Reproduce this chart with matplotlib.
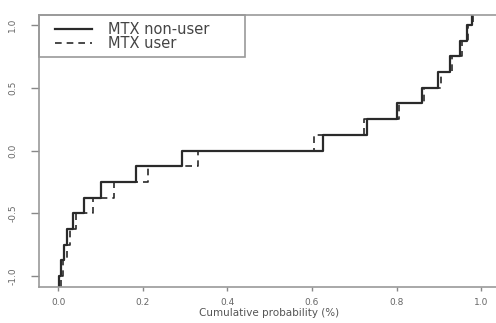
import numpy as np
import matplotlib
matplotlib.use('Agg')
import matplotlib.pyplot as plt
from matplotlib.patches import Rectangle

# step levels (value axis) and the cumulative probability where each level starts
levels = [-1.25, -1.0, -0.875, -0.75, -0.625, -0.5, -0.375, -0.25, -0.125, 0.0,
          0.125, 0.25, 0.375, 0.5, 0.625, 0.75, 0.875, 1.0, 1.25]
nonuser_x = [0.0, 0.003, 0.006, 0.014, 0.021, 0.036, 0.061, 0.102, 0.184, 0.293,
             0.627, 0.731, 0.800, 0.861, 0.898, 0.927, 0.950, 0.967, 0.978]
user_x = [0.0, 0.006, 0.012, 0.020, 0.028, 0.043, 0.082, 0.131, 0.213, 0.331,
          0.605, 0.723, 0.805, 0.866, 0.904, 0.932, 0.955, 0.970, 0.981]
series_names = ['MTX non-user', 'MTX user']

x_ticks = [0.0, 0.2, 0.4, 0.6, 0.8, 1.0]
y_ticks = [-1.0, -0.5, 0.0, 0.5, 1.0]

fig = plt.figure(figsize=(4.96, 3.23), dpi=100)
# axes runs off the right edge, like the cropped original
ax = fig.add_axes([0.0796, 0.1115, 0.9245, 0.842])

line_col = '#2a2a2a'
solid_kw = dict(color=line_col, lw=1.6)
dash_kw = dict(color=line_col, lw=1.2, dashes=(4, 3))
ax.step(nonuser_x + [1.0], levels + [levels[-1]], where='post', **solid_kw)
ax.step(user_x + [1.0], levels + [levels[-1]], where='post', **dash_kw)

ax.set_xlim(-0.044, 1.04)
ax.set_ylim(-1.088, 1.08)

ax.set_xticks(x_ticks)
ax.set_xticklabels(['0.0', '0.2', '0.4', '0.6', '0.8', '1.0'])
ax.set_yticks(y_ticks)
ax.set_yticklabels(['-1.0', '-0.5', '0.0', '0.5', '1.0'], rotation=90, va='center')

for s in ax.spines.values():
    s.set_color('#999999')
    s.set_linewidth(1.2)
ax.spines['right'].set_visible(False)
ax.tick_params(axis='x', length=3, width=1, color='#888888', labelsize=6.5,
               labelcolor='#666666', pad=5)
ax.tick_params(axis='y', length=6, width=1, color='#888888', labelsize=6.5,
               labelcolor='#666666', pad=10)

ax.set_xlabel('Cumulative probability (%)', fontsize=7.5, color='#555555', labelpad=1)

# legend box drawn by hand (R style, flush with top-left corner)
ax.add_patch(Rectangle((0, 0.846), 0.448, 0.154, transform=ax.transAxes, fill=False,
                       edgecolor='#999999', lw=1.2, clip_on=False, zorder=5))
rows_y = [0.9485, 0.897]
for yy, name, kw in zip(rows_y, series_names, [solid_kw, dash_kw]):
    ax.plot([0.0338, 0.1156], [yy, yy], transform=ax.transAxes, **kw)
    ax.text(0.149, yy, name, transform=ax.transAxes, fontsize=10.5, color='#444444',
            va='center', ha='left')

fig.savefig('out.png', dpi=100)
